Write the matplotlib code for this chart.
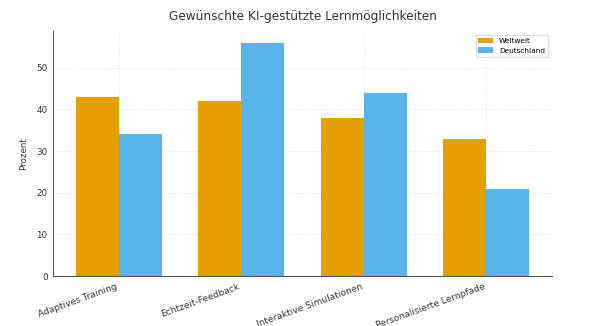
import matplotlib
matplotlib.use('Agg')

import matplotlib.pyplot as plt
import numpy as np

# Survey data: desired AI-supported learning options
categories = ['Adaptives Training', 'Echtzeit-Feedback',
              'Interaktive Simulationen', 'Personalisierte Lernpfade']
weltweit = [43, 42, 38, 33]
deutschland = [34, 56, 44, 21]

x = np.arange(len(categories))
width = 0.35

fig, ax = plt.subplots(figsize=(6.11, 3.26), dpi=100)
ax.bar(x - width / 2, weltweit, width, label='Weltweit', color='#E69F00')
ax.bar(x + width / 2, deutschland, width, label='Deutschland', color='#56B4E9')

ax.set_title('Gewünschte KI-gestützte Lernmöglichkeiten', fontsize=8.7,
             color='#333333', pad=8)
ax.set_ylabel('Prozent', fontsize=6.3, color='#333333', labelpad=6)
ax.set_xticks(x)
ax.set_xticklabels(categories, rotation=20, ha='right', fontsize=6.5, color='#333333')
ax.tick_params(axis='y', labelsize=6.3, colors='#333333', length=0, pad=4)
ax.tick_params(axis='x', length=0, pad=4)

ax.grid(True, linestyle=':', linewidth=0.6, color='#dddddd')
ax.set_axisbelow(True)
for side in ('top', 'right'):
    ax.spines[side].set_visible(False)
for side in ('left', 'bottom'):
    ax.spines[side].set_color('#555555')

ax.legend(fontsize=5.3, loc='upper right', framealpha=1, edgecolor='#dddddd')

fig.subplots_adjust(left=0.087, right=0.903, top=0.905, bottom=0.153)
fig.savefig('out.png')
plt.close(fig)
